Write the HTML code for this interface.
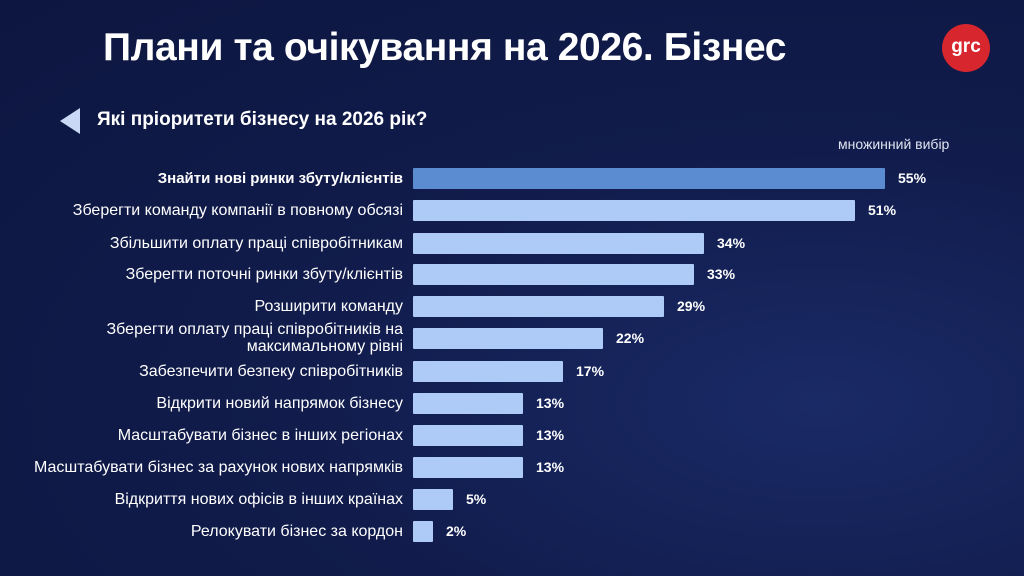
<!DOCTYPE html>
<html><head><meta charset="utf-8"><style>
body{margin:0;width:1024px;height:576px;overflow:hidden;background:radial-gradient(ellipse at 80% 70%,#1a2a66 0%,#111c4c 45%,#0d1640 100%);font-family:"Liberation Sans",sans-serif;color:#fff;position:relative}
.t{position:absolute;left:103px;top:26px;font-size:39px;font-weight:bold;letter-spacing:-0.4px;white-space:nowrap}
.logo{position:absolute;left:942px;top:24px;width:48px;height:48px;border-radius:50%;background:#d8262e;font-size:19px;font-weight:bold;text-align:center;line-height:46px}
.q{position:absolute;left:97px;top:109px;font-size:19px;font-weight:bold;white-space:nowrap}
.tri{position:absolute;left:60px;top:108px;width:0;height:0;border-top:13px solid transparent;border-bottom:13px solid transparent;border-right:20px solid #c9d8f5}
.m{position:absolute;left:838px;top:136px;font-size:14px;color:#dfe4f0}
.l{position:absolute;right:621px;font-size:16px;text-align:right;line-height:17px;white-space:nowrap}
.b{position:absolute;left:413px;height:21px;background:#aecbf7;border-radius:1px}
.v{position:absolute;font-size:14px;font-weight:bold}
</style></head><body>
<div class="t">Плани та очікування на 2026. Бізнес</div>
<div class="logo">grc</div>
<div class="tri"></div>
<div class="q">Які пріоритети бізнесу на 2026 рік?</div>
<div class="m">множинний вибір</div>

<div class="l" style="top:170px;font-weight:bold;font-size:15px">Знайти нові ринки збуту/клієнтів</div>
<div class="b" style="top:168px;width:472px;background:#5b8bd0"></div><div class="v" style="left:898px;top:170px">55%</div>

<div class="l" style="top:202px">Зберегти команду компанії в повному обсязі</div>
<div class="b" style="top:200px;width:442px"></div><div class="v" style="left:868px;top:202px">51%</div>

<div class="l" style="top:235px">Збільшити оплату праці співробітникам</div>
<div class="b" style="top:233px;width:291px"></div><div class="v" style="left:717px;top:235px">34%</div>

<div class="l" style="top:266px">Зберегти поточні ринки збуту/клієнтів</div>
<div class="b" style="top:264px;width:281px"></div><div class="v" style="left:707px;top:266px">33%</div>

<div class="l" style="top:298px">Розширити команду</div>
<div class="b" style="top:296px;width:251px"></div><div class="v" style="left:677px;top:298px">29%</div>

<div class="l" style="top:321px">Зберегти оплату праці співробітників на<br>максимальному рівні</div>
<div class="b" style="top:328px;width:190px"></div><div class="v" style="left:616px;top:330px">22%</div>

<div class="l" style="top:363px">Забезпечити безпеку співробітників</div>
<div class="b" style="top:361px;width:150px"></div><div class="v" style="left:576px;top:363px">17%</div>

<div class="l" style="top:395px">Відкрити новий напрямок бізнесу</div>
<div class="b" style="top:393px;width:110px"></div><div class="v" style="left:536px;top:395px">13%</div>

<div class="l" style="top:427px">Масштабувати бізнес в інших регіонах</div>
<div class="b" style="top:425px;width:110px"></div><div class="v" style="left:536px;top:427px">13%</div>

<div class="l" style="top:459px">Масштабувати бізнес за рахунок нових напрямків</div>
<div class="b" style="top:457px;width:110px"></div><div class="v" style="left:536px;top:459px">13%</div>

<div class="l" style="top:491px">Відкриття нових офісів в інших країнах</div>
<div class="b" style="top:489px;width:40px"></div><div class="v" style="left:466px;top:491px">5%</div>

<div class="l" style="top:523px">Релокувати бізнес за кордон</div>
<div class="b" style="top:521px;width:20px"></div><div class="v" style="left:446px;top:523px">2%</div>
</body></html>
